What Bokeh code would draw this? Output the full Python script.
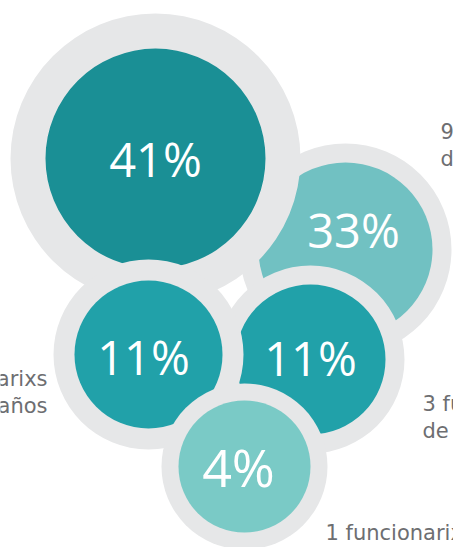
from bokeh.plotting import figure
from bokeh.models import ColumnDataSource, Range1d
from bokeh.core.properties import value
from bokeh.embed import file_html
from bokeh.resources import INLINE

# ---- data ----
percents = [33, 41, 11, 11, 4]          # drawing order (back to front)
counts = [9, 11, 3, 3, 1]
label_line1 = ["9 funcionarixs", "11 funcionarixs", "3 funcionarixs", "3 funcionarixs", "1 funcionarix"]
label_line2 = ["de 5 a 10 años", "de más de 20 años", "de 1 a 5 años", "de 10 a 20 años", "de 1 año"]
fill_colors = ["#71c1c2", "#1a8f95", "#21a1a9", "#21a1a9", "#7acac6"]

# ---- layout (pixel-like coordinates of the packed bubbles) ----
cx = [345, 155, 310, 148, 244]
cy = [249, 158, 359, 354, 466]
disk_r = [87, 110, 75, 74, 66]
ring_r = [106, 145, 94, 95, 83]
txt_x = [353, 155, 310, 143, 238]
txt_y = [229, 158, 357, 356, 466]
txt_size = ["47px", "47px", "47px", "47px", "52px"]
RING = "#e6e7e8"
LABEL = "#6d6e71"

W, H = 453, 547
p = figure(width=W, height=H, x_range=Range1d(0, W), y_range=Range1d(H, 0),
           output_backend="svg", toolbar_location=None, min_border=0)
p.axis.visible = False
p.grid.visible = False
p.outline_line_color = None
p.background_fill_color = "white"
p.border_fill_color = "white"

# interleave ring/disk for correct stacking
xs, ys, rs, cs = [], [], [], []
for i in range(len(percents)):
    xs += [cx[i], cx[i]]
    ys += [cy[i], cy[i]]
    rs += [ring_r[i], disk_r[i]]
    cs += [RING, fill_colors[i]]
src = ColumnDataSource(dict(x=xs, y=ys, r=rs, c=cs))
p.circle(x="x", y="y", radius="r", fill_color="c", line_color=None, source=src)

tsrc = ColumnDataSource(dict(x=txt_x, y=txt_y, t=[f"{v}%" for v in percents], fs=txt_size))
p.text(x="x", y="y", text="t", source=tsrc, text_color="white", text_font=value("Open Sans"),
       text_font_size="fs", text_align="center", text_baseline="middle")

# side labels
lab_x = [440, -200, 422, 47, 325]
lab_x2 = [440, -200, 422, 47, 407]
lab_y = [131, -200, 403, 378, 532]
lab_align = ["left", "left", "left", "right", "left"]
GAP = 27
for align in ["left", "right"]:
    idx = [i for i in range(len(percents)) if lab_align[i] == align]
    lx = [lab_x[i] for i in idx] + [lab_x2[i] for i in idx]
    ly = [lab_y[i] for i in idx] + [lab_y[i] + GAP for i in idx]
    lt = [label_line1[i] for i in idx] + [label_line2[i] for i in idx]
    p.text(x=lx, y=ly, text=lt, text_color=LABEL, text_font=value("DejaVu Sans"),
           text_font_size="21px", text_align=align, text_baseline="alphabetic")

open("out.html", "w").write(file_html(p, INLINE))
